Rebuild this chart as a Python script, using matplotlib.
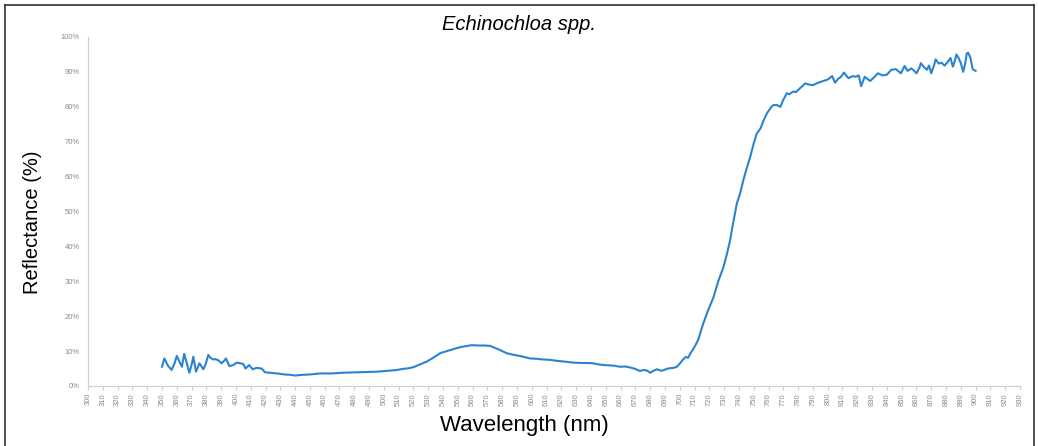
import matplotlib.pyplot as plt
from matplotlib.ticker import FuncFormatter
from matplotlib.lines import Line2D

# === Daten ===
wavelength = [350, 351.6, 352.5, 354, 356.5, 358.5, 360, 362, 363.5, 365, 366.5, 368.5, 370, 371.2,
              373, 375.3, 378, 379.5, 381.3, 383, 384.7, 386, 388, 390.3, 392, 393.3, 395.5, 398.2,
              400.5, 403, 405, 406.5, 408.9, 411.3, 414, 417.4, 419.7, 423, 427.6, 433, 437, 440,
              445, 450, 457, 465, 472, 479, 487, 495, 504, 509, 513, 517, 520, 524, 529, 533, 538,
              541, 545, 548, 551.5, 555, 559.4, 564, 568, 571.8, 574, 577.5, 580, 583, 587, 592,
              598.8, 603, 607.8, 612, 617, 622, 628, 633, 637, 641.7, 645, 648.4, 653, 656, 659.7,
              663, 666.5, 670, 673, 675.6, 678, 680, 682, 684.5, 687, 689, 691, 693.5, 696, 698,
              700.6, 702, 704, 705.7, 707, 709, 711, 712.6, 715.8, 719, 722.8, 726, 729.5, 732,
              734, 736, 738.6, 741, 743, 745, 747.6, 750, 752, 754.6, 756.6, 759, 762, 763.4,
              765.6, 768, 770, 772.4, 774, 776.9, 778.5, 780, 782, 784.8, 787, 790, 793, 797,
              800, 803, 805, 807, 809, 811, 814, 817, 819, 821, 822.6, 825, 828.7, 831, 834, 837,
              840, 843, 846, 849.5, 852, 854, 856.5, 858, 860, 862, 863, 865, 867, 868.5, 870,
              872, 873, 875, 877, 879, 881, 883, 884.6, 886, 887, 888.5, 890, 891.6, 893, 894,
              895, 896.5, 898, 900]
reflectance = [5.5, 7.9, 7.2, 5.8, 4.6, 6.5, 8.6, 6.8, 5.5, 9.2, 7.0, 3.8, 6.0, 8.4,
               4.1, 6.5, 4.8, 6.2, 8.9, 8.0, 7.6, 7.7, 7.4, 6.5, 7.2, 7.9, 5.7, 6.0,
               6.7, 6.5, 6.3, 5.0, 6.0, 4.8, 5.2, 5.0, 3.9, 3.8, 3.6, 3.3, 3.2, 3.0,
               3.2, 3.3, 3.6, 3.6, 3.8, 3.9, 4.0, 4.1, 4.4, 4.6, 4.9, 5.1, 5.4, 6.1, 7.0, 8.0, 9.4,
               9.8, 10.3, 10.7, 11.1, 11.4, 11.7, 11.6, 11.6, 11.5, 11.1, 10.5, 10.0, 9.4, 9.0, 8.6,
               7.9, 7.8, 7.6, 7.5, 7.2, 7.0, 6.7, 6.6, 6.6, 6.5, 6.2, 6.0, 5.9, 5.8, 5.5,
               5.6, 5.3, 4.9, 4.3, 4.6, 4.4, 3.8, 4.3, 4.8, 4.4, 4.5, 4.9, 5.1, 5.2, 5.5,
               6.7, 7.5, 8.3, 8.1, 9.2, 10.5, 12.0, 13.4, 17.8, 21.5, 25.4, 30.0, 34.0, 38.0,
               41.7, 46.5, 52.3, 55.5, 59.0, 62.0, 65.6, 69.5, 72.3, 73.8, 76.0, 78.2, 80.0, 80.5,
               80.5, 80.0, 82.0, 83.9, 83.6, 84.4, 84.2, 84.8, 85.6, 86.7, 86.4, 86.2, 86.8, 87.4,
               87.8, 88.8, 86.9, 88.0, 88.6, 89.8, 88.2, 88.8, 88.6, 89.0, 85.9, 88.6, 87.4, 88.3, 89.6, 89.0,
               89.2, 90.6, 90.8, 89.6, 91.7, 90.3, 91.0, 90.5, 89.6, 91.2, 92.5, 91.4, 90.6, 91.8, 89.6,
               92.0, 93.6, 92.4, 92.6, 91.8, 92.8, 94.0, 91.5, 93.2, 95.0, 94.0, 92.5, 90.0, 92.5,
               95.3, 95.5, 94.0, 90.8, 90.3]
x_ticks = list(range(300, 931, 10))
y_ticks = [0, 10, 20, 30, 40, 50, 60, 70, 80, 90, 100]
# ======================

plt.rcParams['font.family'] = ['Liberation Sans', 'DejaVu Sans']

W, H = 1038, 446
fig = plt.figure(figsize=(W / 100, H / 100), dpi=100)
ax = fig.add_axes([88 / W, (H - 386) / H, (1020 - 88) / W, (386 - 37) / H])

ax.plot(wavelength, reflectance, color='#2b83d0', linewidth=1.5)

ax.set_xlim(300, 930)
ax.set_ylim(0, 100)
ax.set_xticks(x_ticks)
ax.set_yticks(y_ticks)
ax.yaxis.set_major_formatter(FuncFormatter(lambda v, p: f'{v:.0f}%'))
ax.tick_params(axis='x', labelrotation=90, labelsize=5.5, labelcolor='#8a8a8a',
               color='#cfcfcf', length=3, width=0.8, pad=2)
ax.tick_params(axis='y', labelsize=5.5, labelcolor='#8a8a8a', length=0, pad=6)

for side in ['top', 'right']:
    ax.spines[side].set_visible(False)
for side in ['left', 'bottom']:
    ax.spines[side].set_color('#d0d0d0')
    ax.spines[side].set_linewidth(0.9)

fig.text(519 / W, 1 - 25 / H, 'Echinochloa spp.', ha='center', va='center',
         fontsize=14.5, style='italic')
fig.text(32 / W, 1 - 222 / H, 'Reflectance (%)', ha='center', va='center',
         rotation=90, fontsize=14.5)
fig.text(524 / W, 1 - 426 / H, 'Wavelength (nm)', ha='center', va='center',
         fontsize=16)

# Rahmen um die ganze Grafik
frame_kw = dict(color='#303030', linewidth=1.2, transform=fig.transFigure)
fig.add_artist(Line2D([5 / W, 5 / W], [0, 1 - 5 / H], **frame_kw))
fig.add_artist(Line2D([5 / W, 1034 / W], [1 - 5 / H, 1 - 5 / H], **frame_kw))
fig.add_artist(Line2D([1034 / W, 1034 / W], [0, 1 - 5 / H], **frame_kw))

fig.savefig('out.png', dpi=100)
